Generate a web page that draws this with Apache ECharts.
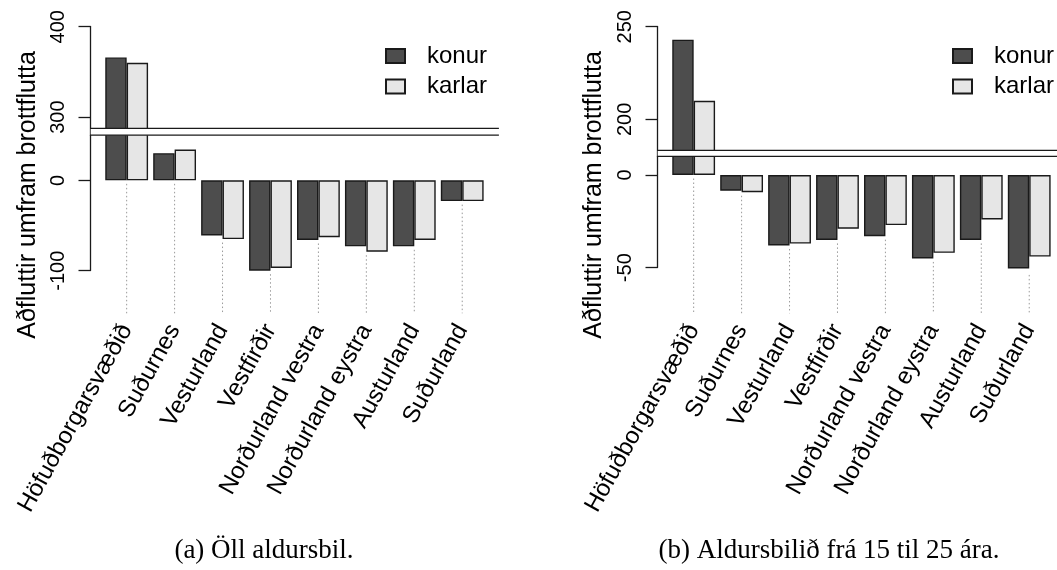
<!DOCTYPE html>
<html>
<head>
<meta charset="utf-8">
<script src="https://cdn.jsdelivr.net/npm/echarts@6/dist/echarts.min.js"></script>
<style>html,body{margin:0;padding:0;background:#fff}#c{width:1057px;height:570px}</style>
</head>
<body>
<div id="c"></div>
<script>
// ---------- data ----------
const categories = ['Höfuðborgarsvæðið', 'Suðurnes', 'Vesturland', 'Vestfirðir',
  'Norðurland vestra', 'Norðurland eystra', 'Austurland', 'Suðurland'];
const seriesNames = ['konur', 'karlar'];
const konurAll = [366, 30, -61, -100, -66, -73, -73, -23];
const karlarAll = [360, 34, -65, -97, -63, -79, -66, -23];
const konurYoung = [243, -8.5, -38, -35, -33, -45, -35, -52];
const karlarYoung = [210, -9.3, -37, -29, -27, -42, -24, -44];
const ticksAll = [-100, 0, 300, 400];
const ticksYoung = [-50, 0, 200, 250];
const breakAll = [50, 280];
const breakYoung = [10, 180];
const yTitle = 'Aðfluttir umfram brottflutta';
const captions = ['(a) Öll aldursbil.', '(b) Aldursbilið frá 15 til 25 ára.'];

// ---------- layout ----------
const SANS = '"Liberation Sans", Arial, Helvetica, sans-serif';
const SERIF = '"Liberation Serif", "Times New Roman", serif';
const AX = '#1a1a1a';
const axisOffset = 12.7;
const labelY = 326;
const dotEndY = 313.3;
const panels = [
  { left: 102.7, top: 26.7, width: 383.5, height: 244, ticks: ticksAll, brk: breakAll,
    data: [konurAll, karlarAll], gapPx: 6.7, legendX: 385, titleX: 28.5, capX: 264 },
  { left: 669.7, top: 26.7, width: 383.5, height: 241, ticks: ticksYoung, brk: breakYoung,
    data: [konurYoung, karlarYoung], gapPx: 6.0, legendX: 952, titleX: 594.5, capX: 829 }
];
const colors = ['#4d4d4d', '#e6e6e6'];

const option = {
  animation: false,
  textStyle: { fontFamily: SANS },
  grid: panels.map(p => ({ left: p.left, top: p.top, width: p.width, height: p.height,
    containLabel: false, outerBoundsMode: 'none' })),
  xAxis: panels.map((p, i) => ({
    type: 'category', gridIndex: i, data: categories,
    axisLine: { show: false, onZero: false }, axisTick: { show: false },
    splitLine: { show: false },
    axisLabel: { interval: 0, rotate: 61, fontSize: 24, color: '#000', fontFamily: SANS,
      margin: labelY - (p.top + p.height) }
  })),
  yAxis: panels.map((p, i) => ({
    type: 'value', gridIndex: i, min: p.ticks[0], max: p.ticks[p.ticks.length - 1],
    offset: axisOffset,
    breaks: [{ start: p.brk[0], end: p.brk[1], gap: 0 }],
    breakArea: { show: false },
    splitLine: { show: false },
    axisLine: { show: true, lineStyle: { color: AX, width: 1.3 } },
    axisTick: { show: true, length: 11.5, customValues: p.ticks, lineStyle: { color: AX, width: 1.3 } },
    axisLabel: { customValues: p.ticks, rotate: 90, fontSize: 20, margin: 22, color: '#000', fontFamily: SANS }
  })),
  legend: panels.map(p => ({
    data: seriesNames, orient: 'vertical', left: p.legendX, top: 44, padding: 0,
    itemWidth: 19, itemHeight: 14, itemGap: 6.5, icon: 'rect', selectedMode: false,
    textStyle: { fontSize: 24, lineHeight: 24, color: '#000', fontFamily: SANS, padding: [0, 0, 0, 17] }
  })),
  series: []
};

panels.forEach((p, i) => {
  seriesNames.forEach((name, k) => {
    option.series.push({
      type: 'bar', name, xAxisIndex: i, yAxisIndex: i, data: p.data[k],
      barGap: '0%', barCategoryGap: '10.7%',
      itemStyle: { color: colors[k], borderColor: AX, borderWidth: 1.4 },
      emphasis: { disabled: true }
    });
  });
  option.series.push({
    type: 'custom', xAxisIndex: i, yAxisIndex: i, silent: true, clip: false, z: 1,
    data: categories.map((c, j) => [j, Math.min(0, p.data[0][j], p.data[1][j])]),
    renderItem: (params, api) => {
      const pt = api.coord([api.value(0), api.value(1)]);
      return { type: 'line', shape: { x1: pt[0], y1: pt[1] + 3.5, x2: pt[0], y2: dotEndY },
        style: { stroke: '#9a9a9a', lineWidth: 1, lineDash: [1.5, 2.5] } };
    }
  });
});

const chart = echarts.init(document.getElementById('c'), null, { renderer: 'canvas' });
chart.setOption(option);

const g = [];
panels.forEach((p, i) => {
  const yLow = chart.convertToPixel({ yAxisIndex: i }, p.brk[0]);
  const x1 = p.left - axisOffset;
  const x2 = Math.min(p.left + p.width + axisOffset, 1057);
  g.push({ type: 'rect', z: 100, silent: true,
    shape: { x: x1 + 0.7, y: yLow - p.gapPx, width: x2 - x1, height: p.gapPx },
    style: { fill: '#fff' } });
  [yLow, yLow - p.gapPx].forEach(yy => g.push({ type: 'line', z: 101, silent: true,
    shape: { x1: x1, y1: yy, x2: x2, y2: yy }, style: { stroke: AX, lineWidth: 1.3 } }));
  g.push({ type: 'text', z: 101, silent: true, x: p.titleX, y: 195, rotation: Math.PI / 2,
    style: { text: yTitle, font: '25px ' + SANS, fill: '#000', align: 'center', verticalAlign: 'middle' } });
  g.push({ type: 'text', z: 101, silent: true, x: p.capX, y: 564,
    style: { text: captions[i], font: '27px ' + SERIF, fill: '#000', align: 'center', verticalAlign: 'bottom' } });
});
chart.setOption({ graphic: g });
</script>
</body>
</html>
